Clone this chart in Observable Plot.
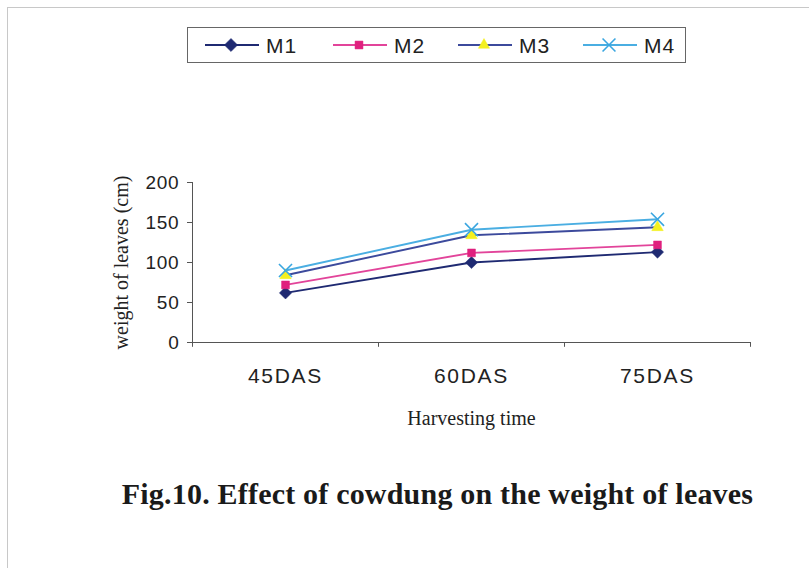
<!DOCTYPE html>
<html>
<head>
<meta charset="utf-8">
<script src="https://cdn.jsdelivr.net/npm/d3@7"></script>
<script src="https://cdn.jsdelivr.net/npm/@observablehq/plot@0.6"></script>
<style>
  html, body { margin: 0; padding: 0; background: #fff; }
  #page { position: relative; width: 809px; height: 568px; overflow: hidden; background: #fff; }
  #frame { position: absolute; left: 7px; top: 7px; right: -10px; bottom: -10px; border-top: 1px solid #c8c8c8; border-left: 1px solid #c8c8c8; }
  #chart { position: absolute; left: 0; top: 0; }
  #legend { position: absolute; left: 187px; top: 27px; width: 499px; height: 36px; border: 1px solid #666; box-sizing: border-box; background: #fff; }
  #legend svg { display: block; }
  #title { position: absolute; left: 33px; width: 809px; top: 477px; text-align: center; font-family: "Liberation Serif", "Times New Roman", serif; font-weight: bold; font-size: 30px; line-height: 34px; color: #1a1a1a; letter-spacing: 0.2px; white-space: nowrap; }
</style>
</head>
<body>
<div id="page">
  <div id="frame"></div>
  <div id="chart"></div>
  <div id="legend"></div>
  <div id="title">Fig.10. Effect of cowdung on the weight of leaves</div>
</div>
<script>
// ---- data ----
const categories = ["45DAS", "60DAS", "75DAS"];
const seriesNames = ["M1", "M2", "M3", "M4"];
const M1 = [62, 100, 113];
const M2 = [72, 112, 122];
const M3 = [84, 134, 144];
const M4 = [90, 141, 154];
const yTicks = [0, 50, 100, 150, 200];
const xLabel = "Harvesting time";
const yLabel = "weight of leaves (cm)";

// ---- styles ----
const styles = {
  M1: {line: "#1f2a72", fill: "#1f2a72", stroke: "#1f2a72", symbol: "diamond2", r: 5.5},
  M2: {line: "#e2449a", fill: "#e0207e", stroke: "#e0207e", symbol: "square2", r: 5},
  M3: {line: "#3c4a9c", fill: "#f4f020", stroke: "#f4f020", symbol: "triangle2", r: 5.5},
  M4: {line: "#4aaee2", fill: "none", stroke: "#3aa6e0", symbol: "times", r: 6}
};

const seriesValues = {M1, M2, M3, M4};
const rows = [];
for (const s of seriesNames) {
  seriesValues[s].forEach((v, i) => rows.push({series: s, cat: categories[i], value: v}));
}

const W = 809, H = 450;
const mL = 192, mR = 59, mT = 182, mB = 108;
const step = (W - mL - mR) / categories.length;
const serif = "Liberation Serif, Times New Roman, serif";

const marks = [];
// axis lines and boundary ticks
marks.push(Plot.ruleY([0], {stroke: "#555", strokeWidth: 1}));
marks.push(Plot.ruleX([categories[0]], {x: d => d, y1: -6, y2: 200, dx: -step / 2, stroke: "#555", strokeWidth: 1}));
marks.push(Plot.ruleX(categories, {x: d => d, y1: -6, y2: 0, dx: step / 2, stroke: "#555", strokeWidth: 1}));
// lines
for (const s of seriesNames) {
  const st = styles[s];
  marks.push(Plot.line(rows.filter(d => d.series === s), {x: "cat", y: "value", stroke: st.line, strokeWidth: 1.9}));
}
for (const s of seriesNames) {
  const st = styles[s];
  marks.push(Plot.dot(rows.filter(d => d.series === s), {
    x: "cat", y: "value", symbol: () => st.symbol, r: st.r,
    fill: st.fill, stroke: st.stroke, strokeWidth: st.fill === "none" ? 1.6 : 0.5
  }));
}
// axis titles
marks.push(Plot.text([yLabel], {text: d => d, frameAnchor: "left", textAnchor: "middle", lineAnchor: "middle", rotate: -90, dx: -71, fontSize: 20, fontFamily: serif, fill: "#222", ariaLabel: "y-title"}));
marks.push(Plot.text([xLabel], {text: d => d, frameAnchor: "bottom", textAnchor: "middle", lineAnchor: "middle", dy: 76, fontSize: 20, fontFamily: serif, fill: "#222", ariaLabel: "x-title"}));

const chart = Plot.plot({
  width: W, height: H,
  marginLeft: mL, marginRight: mR, marginTop: mT, marginBottom: mB,
  style: {fontFamily: "Liberation Sans, Arial, sans-serif", background: "transparent", overflow: "visible"},
  x: {type: "point", domain: categories, padding: 0.5, label: null},
  y: {domain: [0, 200], label: null},
  marks: [
    Plot.axisX({tickSize: 0, tickPadding: 26, fontSize: 21, fill: "#222", label: null}),
    Plot.axisY({ticks: yTicks, tickSize: 5, tickPadding: 8, fontSize: 19, fill: "#222", stroke: "#555", label: null}),
    ...marks
  ]
});
document.getElementById("chart").appendChild(chart);

// letter spacing to mimic the wide rendering of the reference
const svg = d3.select(chart);
svg.selectAll("g[aria-label='x-axis tick label'] text").style("letter-spacing", "1.7px");
svg.selectAll("g[aria-label='y-axis tick label'] text").style("letter-spacing", "0.8px");
svg.selectAll("g[aria-label='y-title'] text").style("letter-spacing", "1.2px");
svg.selectAll("g[aria-label='x-title'] text").style("letter-spacing", "1px");

// ---- legend ----
const lg = d3.select("#legend").append("svg").attr("width", 497).attr("height", 34);
const itemX = [17, 145, 270, 395];
const symGen = {
  diamond2: d3.symbol(d3.symbolDiamond2, 110),
  square2: d3.symbol(d3.symbolSquare2, 80),
  triangle2: d3.symbol(d3.symbolTriangle2, 90),
  times: d3.symbol(d3.symbolTimes, 110)
};
seriesNames.forEach((s, i) => {
  const st = styles[s];
  const g = lg.append("g").attr("transform", `translate(${itemX[i]},17)`);
  g.append("line").attr("x1", 0).attr("x2", 54).attr("stroke", st.line).attr("stroke-width", 1.8);
  g.append("path").attr("transform", "translate(26,0)").attr("d", symGen[st.symbol]())
    .attr("fill", st.fill).attr("stroke", st.stroke).attr("stroke-width", st.fill === "none" ? 1.6 : 0.5);
  g.append("text").attr("x", 61).attr("y", 7.5).text(s)
    .attr("font-family", "Liberation Sans, Arial, sans-serif").attr("font-size", 21)
    .style("letter-spacing", "1px").attr("fill", "#222");
});
</script>
</body>
</html>
